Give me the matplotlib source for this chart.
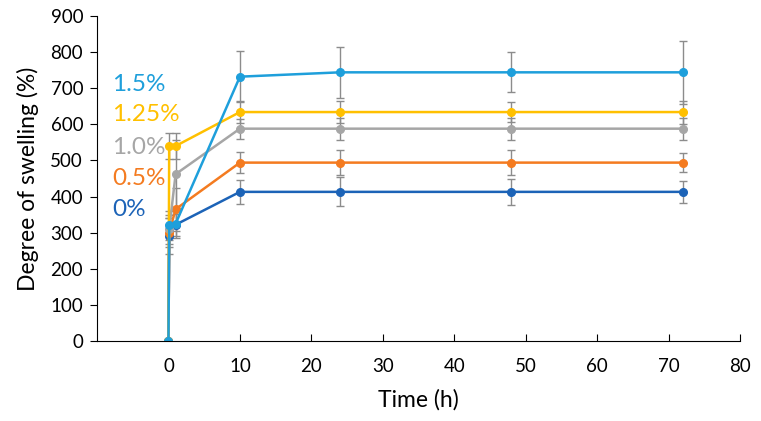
import matplotlib.pyplot as plt

# time points (h)
time = [0, 0.1, 1, 10, 24, 48, 72]

# degree of swelling (%) per concentration
s_0 = [0, 290, 322, 413, 413, 413, 413]
s_05 = [0, 300, 365, 494, 494, 494, 494]
s_10 = [0, 310, 462, 588, 588, 588, 588]
s_125 = [0, 540, 540, 634, 634, 634, 634]
s_15 = [0, 320, 325, 732, 744, 744, 744]

# error bars
e_0 = [0, 50, 30, 33, 40, 35, 30]
e_05 = [0, 40, 60, 30, 35, 35, 26]
e_10 = [0, 40, 95, 28, 30, 30, 30]
e_125 = [0, 35, 35, 30, 30, 28, 32]
e_15 = [0, 40, 40, 70, 70, 55, 88]

labels = ['0%', '0.5%', '1.0%', '1.25%', '1.5%']
colors = ['#1c63b7', '#f47b20', '#a6a6a6', '#ffc000', '#1e9fdb']
label_y = [363, 451, 537, 626, 709]

plt.rcParams['font.family'] = ['Lato', 'DejaVu Sans']

fig = plt.figure(figsize=(7.61, 4.21), dpi=100)
ax = fig.add_axes([0.1275, 0.19, 0.845, 0.772])

series = [(s_0, e_0), (s_05, e_05), (s_10, e_10), (s_125, e_125), (s_15, e_15)]
for (y, e), c in zip(series, colors):
    ax.errorbar(time, y, yerr=e, fmt='none', ecolor='#8c8c8c',
                elinewidth=1, capsize=3, capthick=1, zorder=1)
for (y, e), c in zip(series, colors):
    ax.plot(time, y, color=c, lw=1.8, marker='o', ms=5.5, zorder=2)

# concentration labels
for lab, c, yy in zip(labels, colors, label_y):
    ax.text(-7.9, yy, lab, color=c, fontsize=17.5, ha='left', va='center')

ax.set_xlim(-10, 80)
ax.set_ylim(0, 900)
ax.set_xticks(range(0, 81, 10))
ax.set_yticks(range(0, 901, 100))
ax.spines['top'].set_visible(False)
ax.spines['right'].set_visible(False)
ax.tick_params(axis='x', direction='in', length=5, labelsize=13.5, pad=12)
ax.tick_params(axis='y', direction='out', length=5, labelsize=13.5, pad=5)
ax.set_xlabel('Time (h)', fontsize=16.5, labelpad=10)
ax.set_ylabel('Degree of swelling (%)', fontsize=16.5, labelpad=8)

fig.savefig('out.png', dpi=100)
